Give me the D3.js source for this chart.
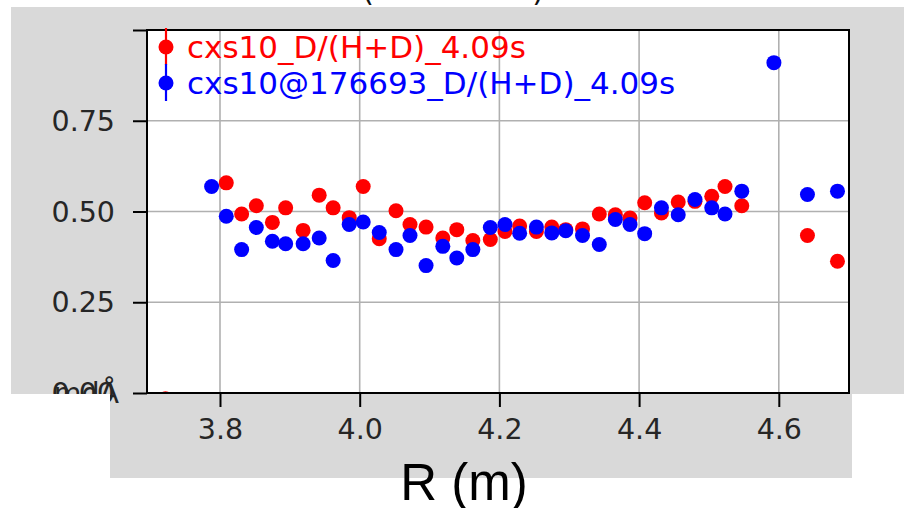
<!DOCTYPE html>
<html lang="en">
<head>
<meta charset="UTF-8">
<title>D/(H+D)</title>
<script src="https://cdn.jsdelivr.net/npm/d3@7"></script>
<style>
  html, body { margin: 0; padding: 0; background: #fff; }
  svg { display: block; }
</style>
</head>
<body>
<div id="app"></div>
<script>
// radius (m)
var redR = [3.722, 3.809, 3.831, 3.852, 3.875, 3.894, 3.919, 3.942, 3.962, 3.985, 4.005, 4.028, 4.052,
            4.072, 4.095, 4.119, 4.139, 4.162, 4.187, 4.208, 4.229, 4.253, 4.275, 4.295, 4.319, 4.343,
            4.366, 4.387, 4.408, 4.432, 4.456, 4.480, 4.504, 4.523, 4.547, 4.641, 4.684];
var redV = [-0.016, 0.579, 0.493, 0.516, 0.470, 0.510, 0.448, 0.545, 0.510, 0.483, 0.569, 0.425, 0.502,
            0.464, 0.457, 0.427, 0.450, 0.420, 0.423, 0.445, 0.460, 0.445, 0.457, 0.450, 0.452, 0.493,
            0.491, 0.482, 0.524, 0.496, 0.526, 0.528, 0.542, 0.569, 0.516, 0.434, 0.363];
var blueR = [3.788, 3.809, 3.831, 3.852, 3.875, 3.894, 3.919, 3.942, 3.962, 3.985, 4.005, 4.028, 4.052,
             4.072, 4.095, 4.119, 4.139, 4.162, 4.187, 4.208, 4.229, 4.253, 4.275, 4.295, 4.319, 4.343,
             4.366, 4.387, 4.408, 4.432, 4.456, 4.480, 4.504, 4.523, 4.547, 4.593, 4.641, 4.684];
var blueV = [0.569, 0.487, 0.395, 0.456, 0.418, 0.411, 0.411, 0.427, 0.365, 0.464, 0.471, 0.442, 0.395,
             0.434, 0.351, 0.404, 0.372, 0.395, 0.456, 0.464, 0.440, 0.457, 0.441, 0.447, 0.434, 0.409,
             0.478, 0.464, 0.439, 0.510, 0.491, 0.533, 0.510, 0.493, 0.556, 0.910, 0.547, 0.556];
var xTicks = [3.8, 4.0, 4.2, 4.4, 4.6];
var yTicks = [0, 0.25, 0.5, 0.75, 1.0];
var yTickLabels = ["", "0.25", "0.50", "0.75", ""];
var legendNames = ["cxs10_D/(H+D)_4.09s", "cxs10@176693_D/(H+D)_4.09s"];
var colors = ["#ff0000", "#0000ff"];

var width = 904, height = 508;
var pLeft = 147, pRight = 849, pTop = 30, pBottom = 393;
var gray = "#d9d9d9";
var tickFont = "'DejaVu Sans', sans-serif";

var svg = d3.select("#app").append("svg")
    .attr("width", width)
    .attr("height", height);

// backgrounds
svg.append("rect").attr("width", width).attr("height", height).attr("fill", "#fff");
svg.append("rect").attr("x", 11).attr("y", 7).attr("width", width - 11).attr("height", 387).attr("fill", gray);
svg.append("rect").attr("x", 110).attr("y", 394).attr("width", 742).attr("height", 84).attr("fill", gray);

// bits of a title cut off at the top
svg.append("text").attr("x", 368).attr("y", 1).attr("font-family", tickFont).attr("font-size", 30)
    .attr("text-anchor", "middle").attr("fill", "#111").text("(");
svg.append("text").attr("x", 538).attr("y", 1).attr("font-family", tickFont).attr("font-size", 30)
    .attr("text-anchor", "middle").attr("fill", "#111").text(")");

var x = d3.scaleLinear().domain([3.6955, 4.7005]).range([pLeft, pRight]);
var y = d3.scaleLinear().domain([0, 1]).range([pBottom, pTop]);

svg.append("rect").attr("x", pLeft).attr("y", pTop)
    .attr("width", pRight - pLeft).attr("height", pBottom - pTop).attr("fill", "#fff");

// grid
var grid = svg.append("g").attr("stroke", "#b0b0b0").attr("stroke-width", 1.6);
grid.selectAll(".gx").data(xTicks).enter().append("line")
    .attr("x1", d => x(d)).attr("x2", d => x(d)).attr("y1", pTop).attr("y2", pBottom);
grid.selectAll(".gy").data(yTicks).enter().append("line")
    .attr("x1", pLeft).attr("x2", pRight).attr("y1", d => y(d)).attr("y2", d => y(d));

// points
var clip = svg.append("clipPath").attr("id", "plotclip");
clip.append("rect").attr("x", pLeft).attr("y", pTop).attr("width", pRight - pLeft).attr("height", pBottom - pTop);

var pts = svg.append("g").attr("clip-path", "url(#plotclip)");
pts.selectAll(".red").data(d3.zip(redR, redV)).enter().append("circle")
    .attr("cx", d => x(d[0])).attr("cy", d => y(d[1])).attr("r", 7.5).attr("fill", colors[0]);
pts.selectAll(".blue").data(d3.zip(blueR, blueV)).enter().append("circle")
    .attr("cx", d => x(d[0])).attr("cy", d => y(d[1])).attr("r", 7.5).attr("fill", colors[1]);

// axes
var xAxis = d3.axisBottom(x).tickValues(xTicks).tickSize(14).tickPadding(12).tickFormat(d3.format(".1f"));
var yAxis = d3.axisLeft(y).tickValues(yTicks).tickSize(14).tickPadding(18).tickFormat((d, i) => yTickLabels[i]);

var gx = svg.append("g").attr("transform", "translate(0," + pBottom + ")").call(xAxis);
var gy = svg.append("g").attr("transform", "translate(" + pLeft + ",0)").call(yAxis);
[gx, gy].forEach(function (g) {
    g.select(".domain").remove();
    g.selectAll(".tick line").attr("stroke", "#000").attr("stroke-width", 2);
    g.selectAll("text").attr("font-family", tickFont).attr("font-size", 28.5).attr("fill", "#262626");
});
gx.selectAll("text").attr("dy", "0.71em");
gy.selectAll("text").attr("dy", "0.34em");

// frame
svg.append("rect").attr("x", pLeft).attr("y", pTop).attr("width", pRight - pLeft).attr("height", pBottom - pTop)
    .attr("fill", "none").attr("stroke", "#000").attr("stroke-width", 2);

// garbled zero label (overlapping texts), cut at the white corner
var zclip = svg.append("clipPath").attr("id", "zclip");
zclip.append("rect").attr("x", 0).attr("y", 0).attr("width", 110).attr("height", 394);
zclip.append("rect").attr("x", 110).attr("y", 0).attr("width", 40).attr("height", 410);
var zg = svg.append("g").attr("clip-path", "url(#zclip)")
    .attr("font-family", tickFont).attr("font-size", 28.5).attr("fill", "#262626").attr("text-anchor", "end");
zg.append("text").attr("x", 115).attr("y", y(0) + 10).text("0.00");
zg.append("text").attr("x", 119).attr("y", y(0) + 10).text("mdÅ");

// legend
var lg = svg.append("g");
legendNames.forEach(function (name, i) {
    var cy = 47 + i * 36;
    lg.append("line").attr("x1", 166).attr("x2", 166).attr("y1", cy - 19).attr("y2", cy + 18)
        .attr("stroke", colors[i]).attr("stroke-width", 2.2);
    lg.append("circle").attr("cx", 166).attr("cy", cy).attr("r", 7.5).attr("fill", colors[i]);
    lg.append("text").attr("x", 187).attr("y", cy + 11).attr("font-family", tickFont)
        .attr("font-size", 31).attr("fill", colors[i]).text(name);
});

// x label
svg.append("text").attr("x", 464).attr("y", 500).attr("text-anchor", "middle")
    .attr("font-family", "'Liberation Sans', Arial, sans-serif").attr("font-size", 51)
    .attr("fill", "#000").text("R (m)");
</script>
</body>
</html>
